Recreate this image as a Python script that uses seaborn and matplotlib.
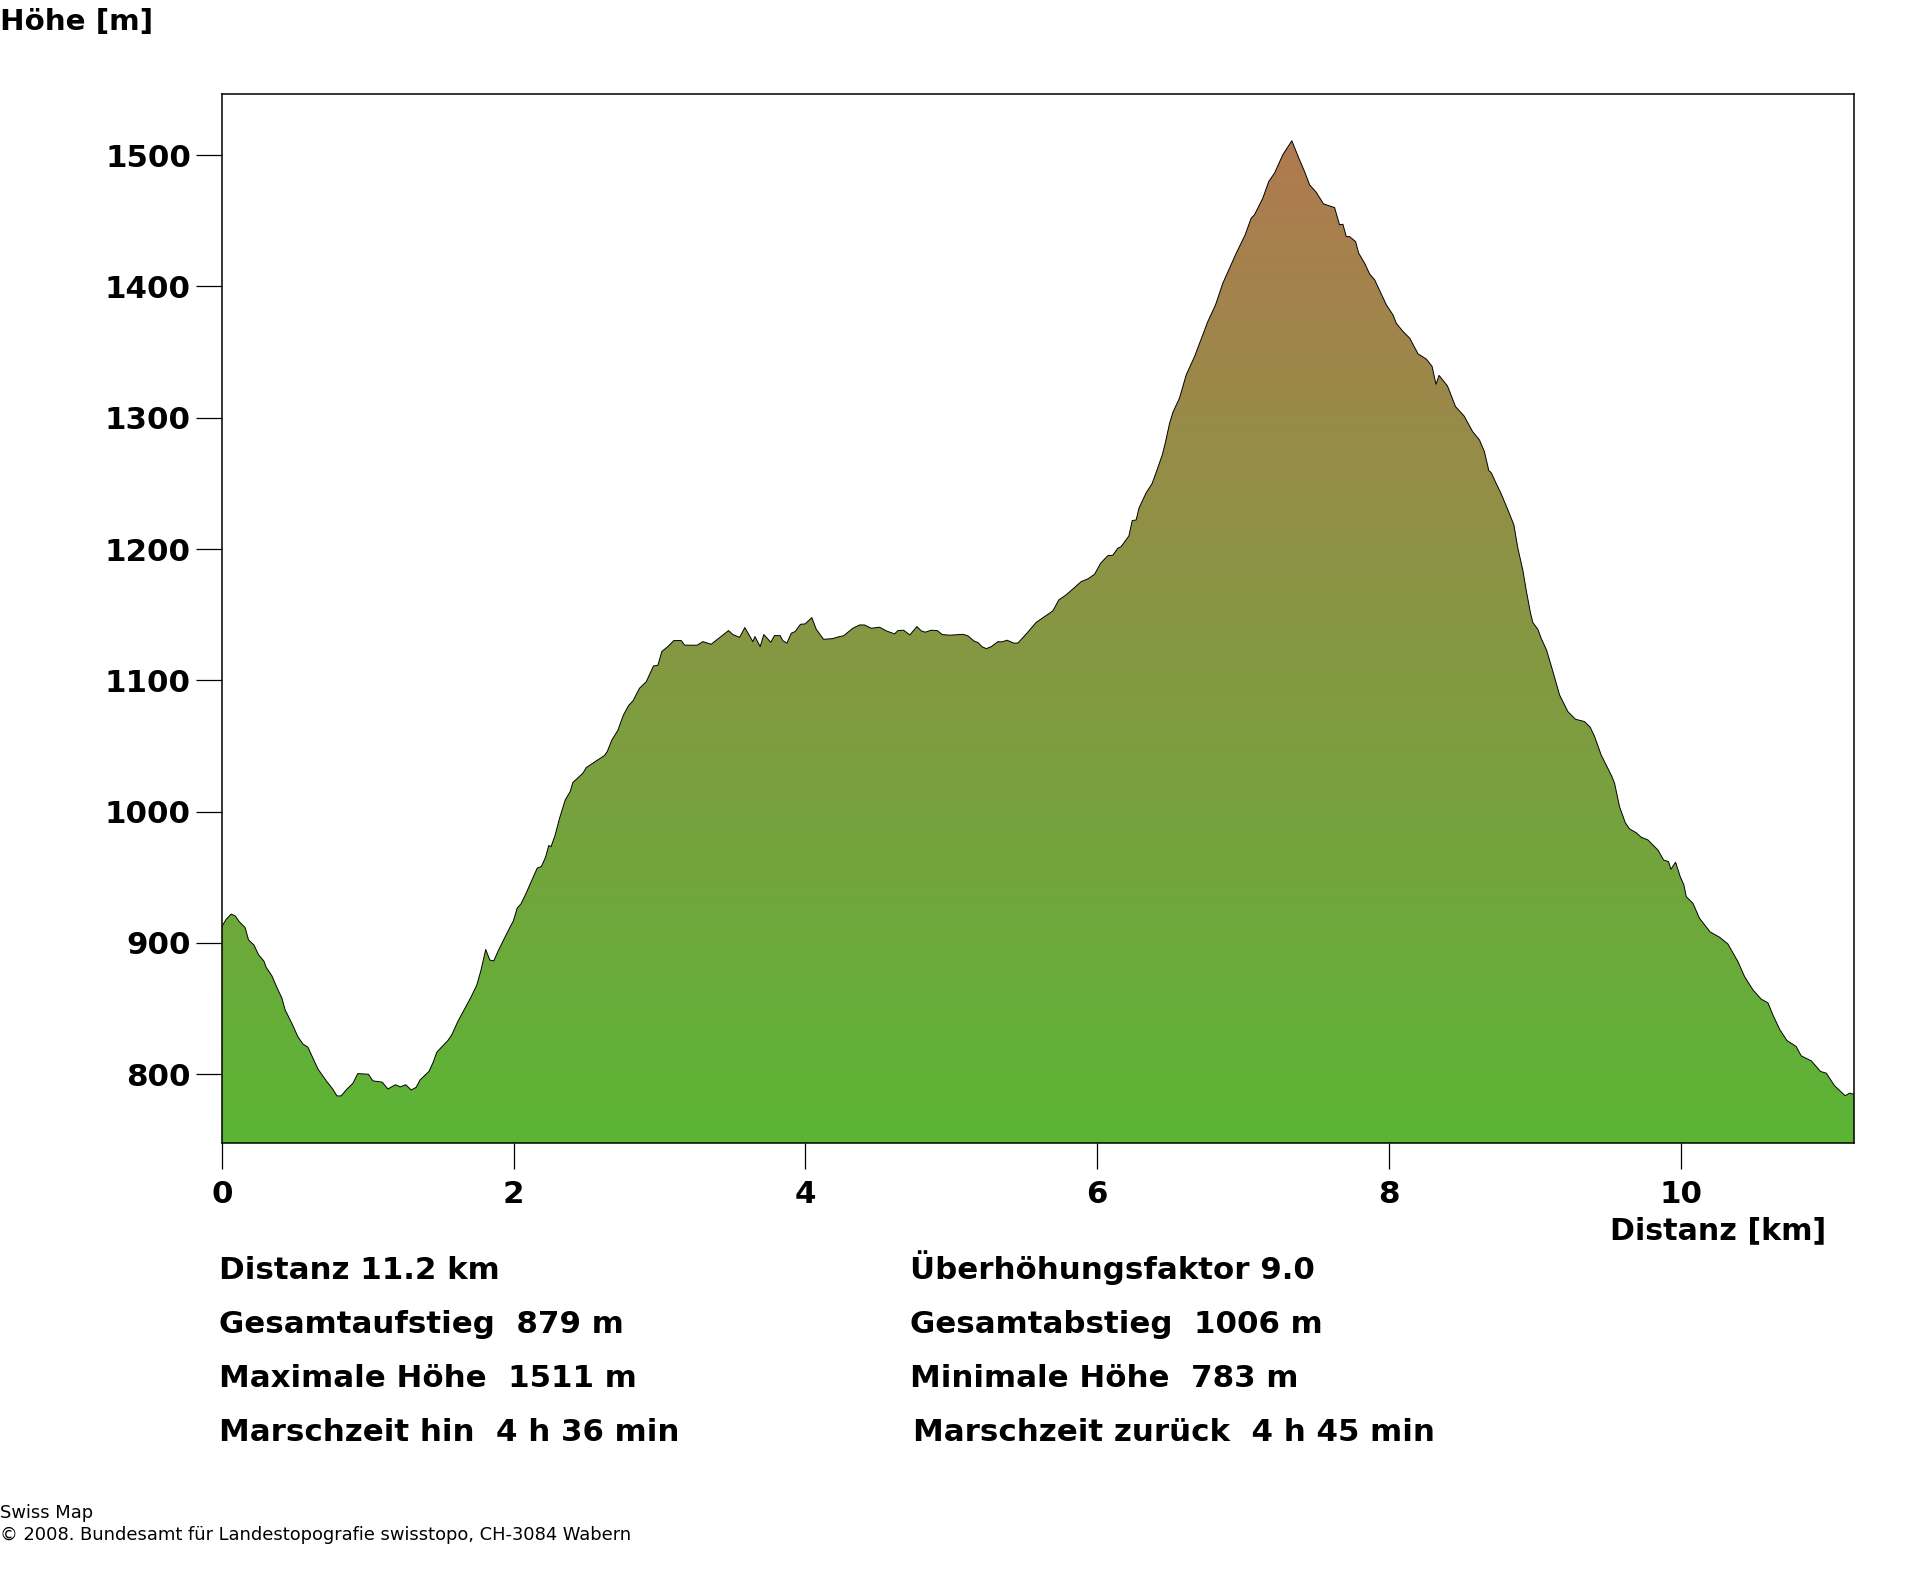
import numpy as np
import pandas as pd
import matplotlib
matplotlib.use("Agg")
import matplotlib.pyplot as plt
from matplotlib.colors import LinearSegmentedColormap
import seaborn as sns

distance_km = [
    0.0, 0.03, 0.064, 0.092, 0.121, 0.16, 0.183, 0.22, 0.252, 0.288, 0.304, 0.343, 0.38, 0.412, 0.434, 0.48,
    0.521, 0.556, 0.59, 0.659, 0.716, 0.761, 0.789, 0.818, 0.857, 0.898, 0.932, 1.005, 1.035, 1.099, 1.138,
    1.19, 1.224, 1.261, 1.298, 1.332, 1.359, 1.419, 1.446, 1.474, 1.503, 1.549, 1.576, 1.617, 1.663, 1.709,
    1.748, 1.777, 1.809, 1.837, 1.864, 1.892, 1.96, 1.999, 2.024, 2.052, 2.086, 2.121, 2.162, 2.19, 2.219,
    2.241, 2.257, 2.285, 2.315, 2.354, 2.388, 2.406, 2.475, 2.498, 2.543, 2.623, 2.642, 2.674, 2.714, 2.753,
    2.788, 2.818, 2.863, 2.909, 2.959, 2.989, 3.016, 3.058, 3.098, 3.149, 3.172, 3.258, 3.297, 3.354, 3.473,
    3.503, 3.549, 3.585, 3.64, 3.654, 3.69, 3.715, 3.763, 3.788, 3.827, 3.845, 3.873, 3.903, 3.93, 3.966,
    3.998, 4.044, 4.074, 4.124, 4.188, 4.211, 4.234, 4.261, 4.325, 4.371, 4.405, 4.451, 4.508, 4.554, 4.611,
    4.634, 4.673, 4.716, 4.764, 4.794, 4.821, 4.863, 4.904, 4.938, 4.993, 5.08, 5.114, 5.155, 5.183, 5.212,
    5.24, 5.274, 5.32, 5.347, 5.382, 5.43, 5.457, 5.518, 5.582, 5.639, 5.696, 5.737, 5.787, 5.89, 5.936,
    5.982, 6.023, 6.073, 6.107, 6.141, 6.164, 6.217, 6.24, 6.267, 6.286, 6.336, 6.375, 6.398, 6.446, 6.466,
    6.496, 6.519, 6.564, 6.61, 6.667, 6.724, 6.758, 6.811, 6.861, 6.907, 6.953, 7.014, 7.055, 7.078, 7.135,
    7.176, 7.215, 7.272, 7.334, 7.382, 7.421, 7.456, 7.501, 7.551, 7.627, 7.661, 7.684, 7.707, 7.73, 7.771,
    7.792, 7.833, 7.867, 7.902, 7.982, 8.027, 8.05, 8.096, 8.142, 8.199, 8.256, 8.295, 8.322, 8.343, 8.401,
    8.456, 8.515, 8.573, 8.62, 8.654, 8.684, 8.7, 8.734, 8.769, 8.815, 8.856, 8.883, 8.917, 8.94, 8.97,
    8.986, 9.02, 9.043, 9.08, 9.12, 9.169, 9.226, 9.278, 9.34, 9.379, 9.409, 9.454, 9.528, 9.546, 9.58,
    9.619, 9.649, 9.694, 9.729, 9.774, 9.843, 9.882, 9.916, 9.932, 9.964, 9.996, 10.021, 10.037, 10.083,
    10.128, 10.201, 10.265, 10.322, 10.352, 10.391, 10.437, 10.494, 10.551, 10.597, 10.631, 10.677, 10.727,
    10.791, 10.825, 10.894, 10.958, 10.997, 11.054, 11.127, 11.157, 11.187,
]
elevation_m = [
    912.5, 918, 922, 920.6, 916, 911.7, 902.3, 898.5, 891, 886.3, 881.5, 875, 865.5, 858, 849, 838.8,
    828.7, 823, 820.6, 804, 795, 788.6, 783.5, 783.5, 788.6, 793, 800.5, 800, 795, 794, 788.8,
    792, 790.4, 792, 788, 790, 795.7, 802, 808.4, 816.8, 820.3, 825.6, 830, 840, 849.5, 859,
    868, 879.5, 895, 887, 886.3, 893.4, 908.7, 917, 926.4, 930, 937.9, 946.8, 957, 958.2, 965.3,
    974.2, 973.4, 982.3, 995, 1009, 1015.3, 1022.2, 1029.3, 1033.6, 1036.9, 1042.8, 1045.8, 1054.7, 1061.8, 1073.7,
    1080.8, 1084.4, 1094, 1099, 1111, 1111.5, 1122, 1125.8, 1130.3, 1130.3, 1126.8, 1126.8, 1129.5, 1127.5, 1137.9,
    1134.9, 1132.8, 1140.2, 1129.5, 1133.4, 1125.7, 1134.9, 1129, 1134.1, 1134.1, 1130.3, 1128.3, 1135.9, 1137.2, 1142.7,
    1143, 1147.8, 1139, 1131.3, 1131.8, 1132.6, 1133.4, 1133.9, 1139.7, 1142.2, 1142.2, 1139.7, 1140.5, 1137.7, 1135.4,
    1137.9, 1138.2, 1134.6, 1141, 1137.7, 1136.7, 1138.2, 1137.9, 1134.9, 1134.4, 1135.1, 1133.9, 1130, 1128.8, 1125.5,
    1124.2, 1125.7, 1129.5, 1129.3, 1130.6, 1128.3, 1128.5, 1135.9, 1144.2, 1148.6, 1152.9, 1161.3, 1165.1, 1175.2, 1177.3,
    1180.8, 1189.2, 1195, 1195.3, 1200.6, 1201.9, 1210, 1221.7, 1222.2, 1231.1, 1243, 1249.6, 1256.5, 1271.7, 1280.6,
    1295.8, 1304.2, 1315, 1332.7, 1346.6, 1363.2, 1373.3, 1386, 1402.5, 1413.9, 1425.4, 1439.3, 1452, 1454.6, 1467.3,
    1480, 1486.3, 1500.3, 1511, 1497.7, 1487.6, 1477.4, 1471.8, 1462.9, 1460.1, 1447, 1447.4, 1438, 1438, 1434.2,
    1425.4, 1417.7, 1409.6, 1405, 1386, 1378.4, 1372, 1365.7, 1360.6, 1348.7, 1344.7, 1339.2, 1325.5, 1332.3, 1324.2,
    1308.5, 1301.3, 1289.5, 1283.1, 1274.2, 1259.8, 1258.3, 1250.1, 1242, 1229.8, 1218.4, 1200.6, 1184.1, 1168.9, 1151.1,
    1144, 1138.9, 1132, 1123, 1108, 1088.9, 1076.2, 1070.4, 1068.6, 1064.3, 1057.2, 1043.2, 1026.7, 1021.6, 1003.8,
    991.7, 986.8, 984, 980.5, 978.5, 970.8, 963.2, 961.9, 956.1, 961.5, 950.5, 944.2, 935.3, 930.2,
    918.8, 908.4, 904.4, 899.3, 893.5, 885.9, 874.4, 864.3, 857.2, 854.4, 845.2, 834.3, 825.7,
    821.1, 814, 810.2, 802.1, 800.8, 791.2, 783.6, 785.6, 784.7,
]
x_ticks = [0, 2, 4, 6, 8, 10]
y_ticks = [800, 900, 1000, 1100, 1200, 1300, 1400, 1500]
info_left = ["Distanz 11.2 km", "Gesamtaufstieg  879 m", "Maximale Höhe  1511 m", "Marschzeit hin  4 h 36 min"]
info_right = ["Überhöhungsfaktor 9.0", "Gesamtabstieg  1006 m", "Minimale Höhe  783 m", "Marschzeit zurück  4 h 45 min"]
footer = ["Swiss Map", "© 2008. Bundesamt für Landestopografie swisstopo, CH-3084 Wabern"]

W, H = 1920, 1572
sns.set_style("white")
plt.rcParams["font.family"] = ["DejaVu Sans"]
fig = plt.figure(figsize=(W / 100, H / 100), dpi=100, facecolor="white")
ax = fig.add_axes([221.8 / W, 1 - 1143.3 / H, (1854.0 - 221.8) / W, (1143.3 - 93.5) / H])
ymin, ymax = 747.4, 1547.0
xmax = 11.187
ax.set_xlim(0, xmax)
ax.set_ylim(ymin, ymax)

df = pd.DataFrame({"distance": distance_km, "elevation": elevation_m})
poly = ax.fill_between(df["distance"], df["elevation"], ymin, color="none", lw=0)
cmap = LinearSegmentedColormap.from_list("relief", ["#5BB535", "#B07A50"])
grad = np.linspace(0, 1, 256).reshape(-1, 1)
peak = max(elevation_m)
img = ax.imshow(grad, cmap=cmap, origin="lower", aspect="auto",
                extent=[0, xmax, ymin, peak], zorder=1, interpolation="bilinear")
img.set_clip_path(poly.get_paths()[0], transform=ax.transData)
ax.set_xlim(0, xmax)
ax.set_ylim(ymin, ymax)
sns.lineplot(data=df, x="distance", y="elevation", sort=False, estimator=None,
             color="black", lw=0.7, ax=ax, zorder=2)
ax.set_xlabel("")
ax.set_ylabel("")

for s in ax.spines.values():
    s.set_visible(True)
    s.set_color("black")
    s.set_linewidth(1.1)
    s.set_zorder(5)

FS = 22.2
ax.set_xticks(x_ticks)
ax.set_yticks(y_ticks)
ax.tick_params(axis="both", which="major", direction="out", length=18.7, width=0.9, color="black",
               bottom=True, left=True)
ax.tick_params(axis="x", pad=8)
ax.tick_params(axis="y", pad=3.5)
for lab in ax.get_xticklabels() + ax.get_yticklabels():
    lab.set_fontsize(FS)
    lab.set_fontweight("bold")
    lab.set_color("black")


def put(px, py, s, size=FS, weight="bold", ha="left"):
    fig.text(px / W, 1 - py / H, s, fontsize=size, fontweight=weight, ha=ha, va="baseline", color="black")


put(0, 30, "Höhe [m]", size=21.2)
put(1826, 1239, "Distanz [km]", size=21.7, ha="right")
for s, py in zip(info_left, [1279, 1333, 1387, 1441]):
    put(219, py, s)
for s, px, py in zip(info_right, [910, 910, 910, 913], [1279, 1333, 1387, 1441]):
    put(px, py, s)
for s, py in zip(footer, [1518, 1540]):
    put(0, py, s, size=12.9, weight="normal")

fig.savefig("out.png", dpi=100, facecolor="white")
